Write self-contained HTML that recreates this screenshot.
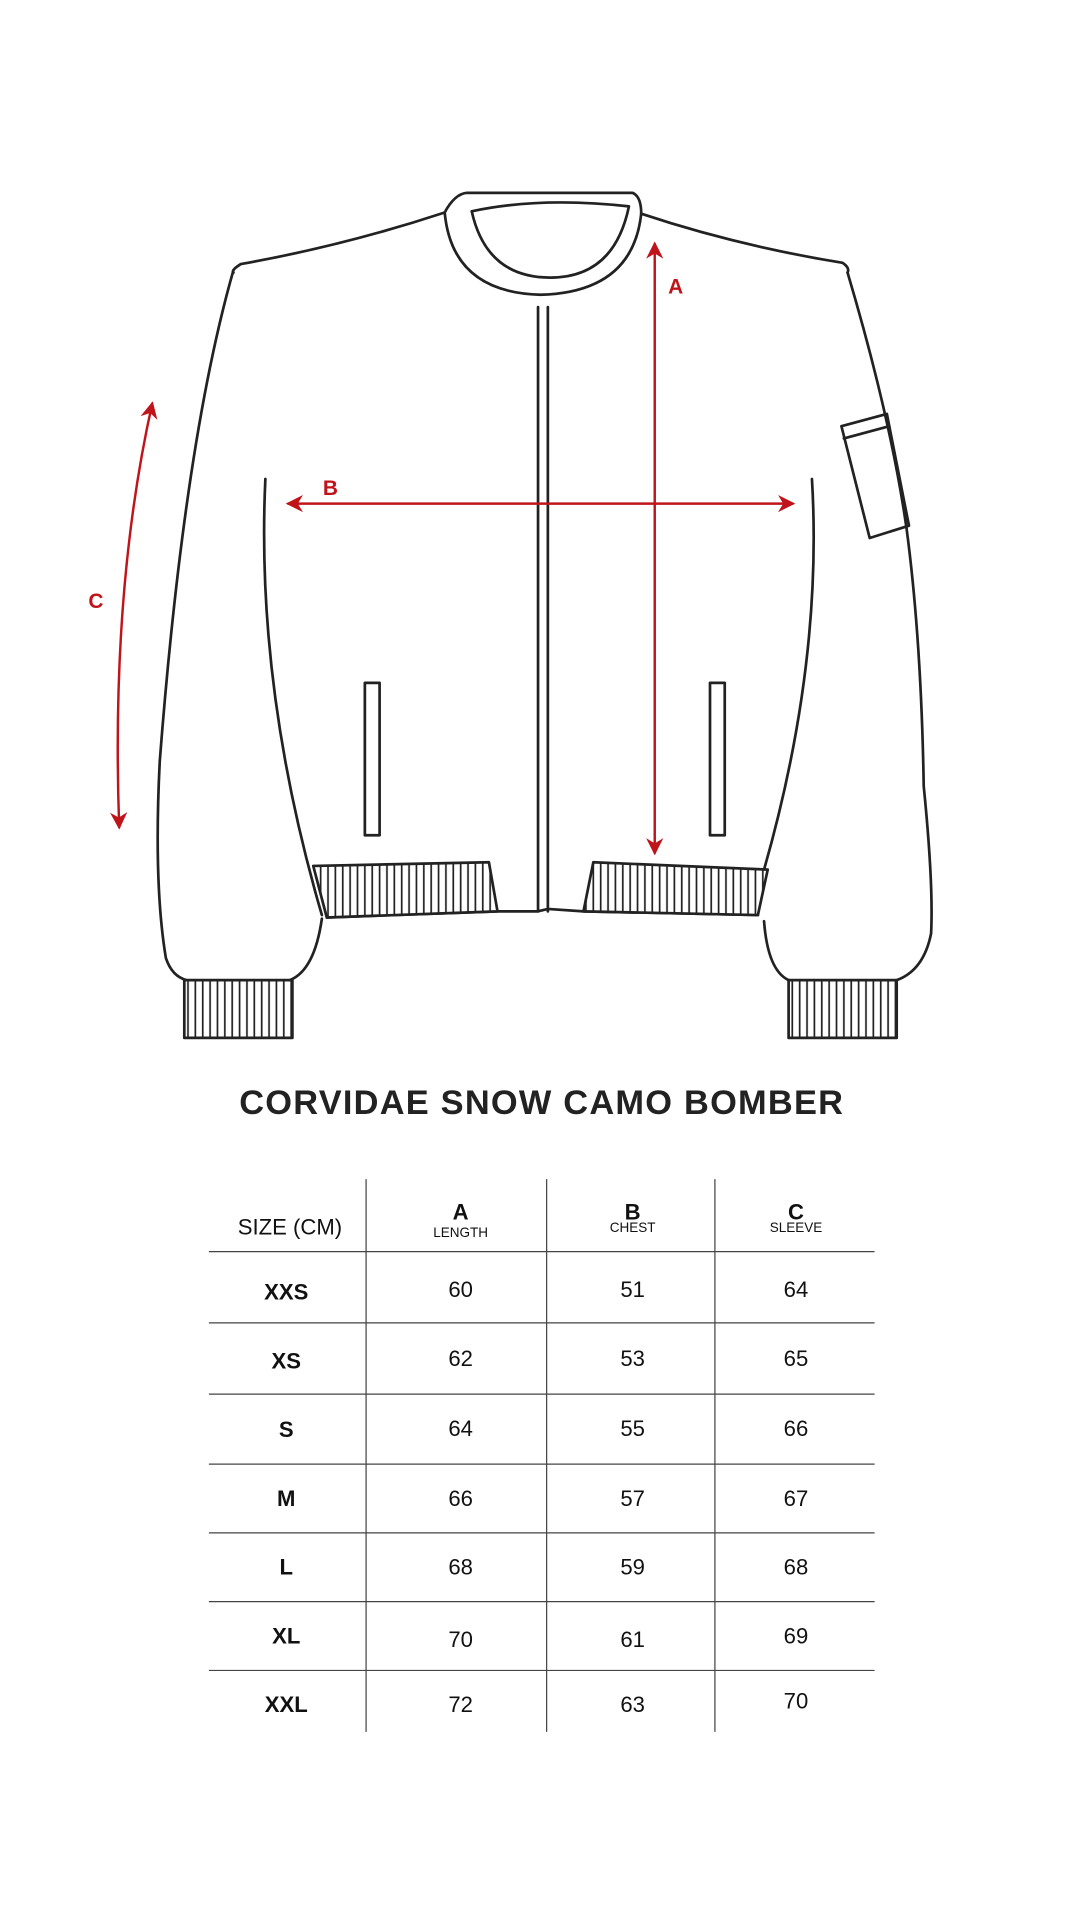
<!DOCTYPE html>
<html><head><meta charset="utf-8"><style>html,body{margin:0;padding:0;background:#fff;width:1081px;height:1921px;overflow:hidden}</style></head><body>
<svg width="1081" height="1921" viewBox="0 0 880 1564" xmlns="http://www.w3.org/2000/svg" font-family="Liberation Sans, sans-serif">
<defs>
<marker id="ar" viewBox="0 0 10 10" refX="9" refY="5" markerWidth="7" markerHeight="7" orient="auto-start-reverse"><path d="M0,0 L10,5 L0,10 L3,5 z" fill="#c0141b"/></marker>
<pattern id="rib" width="6" height="10" patternUnits="userSpaceOnUse"><rect width="6" height="10" fill="#fff"/><line x1="3" y1="0" x2="3" y2="10" stroke="#222" stroke-width="1.4"/></pattern>
</defs>
<g fill="none" stroke="#222" stroke-width="2.2" stroke-linejoin="round" stroke-linecap="round">
<path d="M362,173 Q370,158 380,157 L515,157 Q522,160 522,174"/>
<path d="M362,173 Q368,238 440,240 Q515,238 522,174"/>
<path d="M384,172 Q440,160 512,168 Q500,226 448,226 Q396,226 384,172 Z"/>
<path d="M362,173 Q280,200 196,215 Q188,220 190,222"/>
<path d="M522,174 Q600,200 686,214 Q692,218 690,222"/>
<path d="M190,220 Q150,360 130,620 Q125,720 135,780 Q140,795 152,798"/>
<path d="M216,390 Q208,560 262,745"/>
<path d="M236,798 Q256,790 262,748"/>
<path d="M690,222 Q725,340 738,430 Q750,520 752,640 Q760,720 758,760 Q752,790 730,798"/>
<path d="M661,390 Q670,540 622,708"/>
<path d="M642,798 Q625,790 622,750"/>
<path d="M266,747 L405,742 L438,742 L446,740 L475,742 L617,745"/>
<line x1="438" y1="250" x2="438" y2="742"/><line x1="446" y1="250" x2="446" y2="742"/>
<path d="M685,347 L722,337 L740,428 L708,438 Z"/><line x1="687" y1="357" x2="724" y2="347"/>
<rect x="297" y="556" width="12" height="124"/><rect x="578" y="556" width="12" height="124"/>
<path d="M255,705 L398,702 L405,742 L266,747 Z" fill="url(#rib)"/>
<path d="M483,702 L625,708 L617,745 L475,742 Z" fill="url(#rib)"/>
<rect x="150" y="798" width="88" height="47" fill="url(#rib)"/>
<rect x="642" y="798" width="88" height="47" fill="url(#rib)"/>
</g>
<g stroke="#c0141b" stroke-width="2" fill="none">
<line x1="533" y1="198" x2="533" y2="695" marker-start="url(#ar)" marker-end="url(#ar)"/>
<line x1="234" y1="410" x2="646" y2="410" marker-start="url(#ar)" marker-end="url(#ar)"/>
<path d="M124,328 Q90,480 97,674" marker-start="url(#ar)" marker-end="url(#ar)"/>
</g>
<g fill="#c0141b" font-weight="bold" font-size="17" text-anchor="middle">
<text x="550" y="239">A</text><text x="269" y="403">B</text><text x="78" y="495">C</text>
</g>
<text x="441" y="907" text-anchor="middle" font-size="28" font-weight="bold" fill="#222" letter-spacing="1">CORVIDAE SNOW CAMO BOMBER</text>
<g stroke="#444" stroke-width="1">
<line x1="298" y1="960" x2="298" y2="1410"/><line x1="445" y1="960" x2="445" y2="1410"/><line x1="582" y1="960" x2="582" y2="1410"/>
<line x1="170" y1="1019" x2="712" y2="1019"/><line x1="170" y1="1077" x2="712" y2="1077"/><line x1="170" y1="1135" x2="712" y2="1135"/><line x1="170" y1="1192" x2="712" y2="1192"/><line x1="170" y1="1248" x2="712" y2="1248"/><line x1="170" y1="1304" x2="712" y2="1304"/><line x1="170" y1="1360" x2="712" y2="1360"/>
</g>
<g fill="#111" text-anchor="middle">
<text x="236" y="1005" font-size="18">SIZE (CM)</text>
<text x="375" y="993" font-size="18" font-weight="bold">A</text><text x="375" y="1007" font-size="11">LENGTH</text>
<text x="515" y="993" font-size="18" font-weight="bold">B</text><text x="515" y="1003" font-size="11">CHEST</text>
<text x="648" y="993" font-size="18" font-weight="bold">C</text><text x="648" y="1003" font-size="11">SLEEVE</text>
<g font-size="18" font-weight="bold">
<text x="233" y="1058">XXS</text><text x="233" y="1114">XS</text><text x="233" y="1170">S</text><text x="233" y="1226">M</text><text x="233" y="1282">L</text><text x="233" y="1338">XL</text><text x="233" y="1394">XXL</text>
</g>
<g font-size="18">
<text x="375" y="1056">60</text><text x="515" y="1056">51</text><text x="648" y="1056">64</text>
<text x="375" y="1112">62</text><text x="515" y="1112">53</text><text x="648" y="1112">65</text>
<text x="375" y="1169">64</text><text x="515" y="1169">55</text><text x="648" y="1169">66</text>
<text x="375" y="1226">66</text><text x="515" y="1226">57</text><text x="648" y="1226">67</text>
<text x="375" y="1282">68</text><text x="515" y="1282">59</text><text x="648" y="1282">68</text>
<text x="375" y="1341">70</text><text x="515" y="1341">61</text><text x="648" y="1338">69</text>
<text x="375" y="1394">72</text><text x="515" y="1394">63</text><text x="648" y="1391">70</text>
</g>
</g>
</svg>
</body></html>
